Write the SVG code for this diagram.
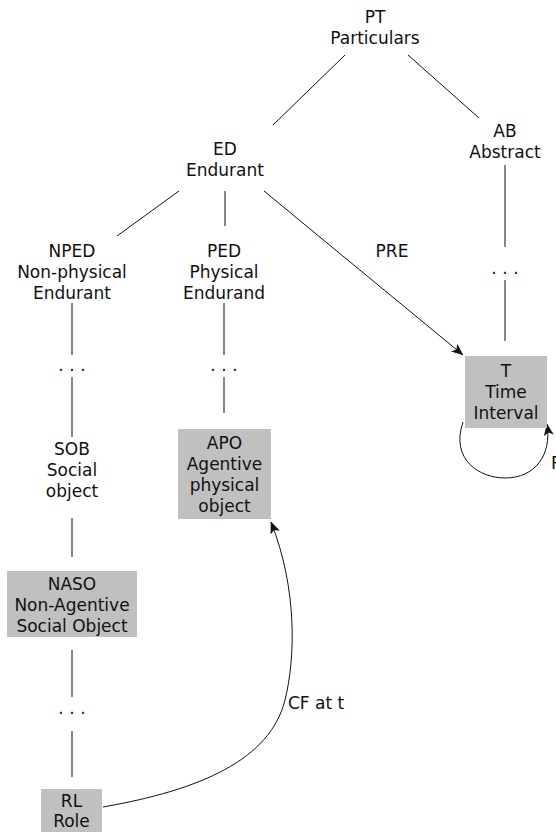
<svg xmlns="http://www.w3.org/2000/svg" width="556" height="832" viewBox="0 0 556 832">
<style>
text{font-family:"DejaVu Sans","Liberation Sans",sans-serif;font-size:17px;fill:#111;text-anchor:middle}
.l{font-family:"DejaVu Sans","Liberation Sans",sans-serif}
.st{text-anchor:start}
.dots{letter-spacing:5.6px}
.box{fill:#c0c0c0;stroke:none}
.c line,.c path{stroke:#111;stroke-width:1;fill:none}
</style>
<defs>
<marker id="arr" viewBox="0 0 12 10" refX="11.5" refY="5" markerWidth="12" markerHeight="10" markerUnits="userSpaceOnUse" orient="auto">
<path d="M0,0 L12,5 L0,10 L3,5 z" fill="#111"/>
</marker>
</defs>
<rect width="556" height="832" fill="#fff"/>
<g id="connectors" class="c">
<line x1="345" y1="55" x2="273" y2="125"/>
<line x1="408" y1="55" x2="479" y2="118"/>
<line x1="179" y1="191" x2="117" y2="236"/>
<line x1="225" y1="191" x2="225" y2="226"/>
<line x1="264" y1="191" x2="463" y2="355" marker-end="url(#arr)"/>
<line x1="505" y1="165" x2="505" y2="247"/>
<line x1="505" y1="280" x2="505" y2="341"/>
<line x1="72" y1="303" x2="72" y2="355"/>
<line x1="72" y1="377" x2="72" y2="437"/>
<line x1="224" y1="303" x2="224" y2="355"/>
<line x1="224" y1="377" x2="224" y2="413"/>
<line x1="72" y1="518" x2="72" y2="557"/>
<line x1="72" y1="650" x2="72" y2="697"/>
<line x1="72" y1="731" x2="72" y2="777"/>
<path d="M463,422 C450,460 480,478 505,478 C535,478 552,455 547,424" marker-end="url(#arr)"/>
<path d="M103,807 C200,790 270,760 285,700 C295,660 298,590 271,522" marker-end="url(#arr)"/>
<text x="392" y="257">PRE</text>
<text class="st" x="288" y="709">CF at t</text>
<text class="st" x="551" y="469">P</text>
</g>
<g id="PT">
<text x="375" y="23">PT</text>
<text x="375" y="44">Particulars</text>
</g>
<g id="ED">
<text x="225" y="155">ED</text>
<text x="225" y="176">Endurant</text>
</g>
<g id="AB">
<text x="505" y="137">AB</text>
<text x="505" y="158">Abstract</text>
</g>
<g id="AB-dots"><text class="dots" x="507.8" y="274">...</text></g>
<g id="NPED">
<text x="72" y="257">NPED</text>
<text x="72" y="278">Non-physical</text>
<text x="72" y="299">Endurant</text>
</g>
<g id="PED">
<text x="224" y="257">PED</text>
<text x="224" y="278">Physical</text>
<text x="224" y="299">Endurand</text>
</g>
<g id="NPED-dots"><text class="dots" x="74.8" y="371">...</text></g>
<g id="PED-dots"><text class="dots" x="226.8" y="371">...</text></g>
<g id="T">
<rect class="box" x="465" y="356" width="82" height="72"/>
<text x="506" y="377">T</text>
<text x="506" y="398">Time</text>
<text x="506" y="419">Interval</text>
</g>
<g id="SOB">
<text x="72" y="455">SOB</text>
<text x="72" y="476">Social</text>
<text x="72" y="497">object</text>
</g>
<g id="APO">
<rect class="box" x="178" y="429" width="93" height="90"/>
<text x="224.5" y="449">APO</text>
<text x="224.5" y="470">Agentive</text>
<text x="224.5" y="491">physical</text>
<text x="224.5" y="512">object</text>
</g>
<g id="NASO">
<rect class="box" x="7" y="571" width="130" height="66"/>
<text x="72" y="590">NASO</text>
<text x="72" y="611">Non-Agentive</text>
<text x="72" y="632">Social Object</text>
</g>
<g id="RL-dots"><text class="dots" x="74.8" y="714">...</text></g>
<g id="RL">
<rect class="box" x="41" y="789" width="61" height="43"/>
<text x="71.5" y="807">RL</text>
<text x="71.5" y="827">Role</text>
</g>
</svg>
